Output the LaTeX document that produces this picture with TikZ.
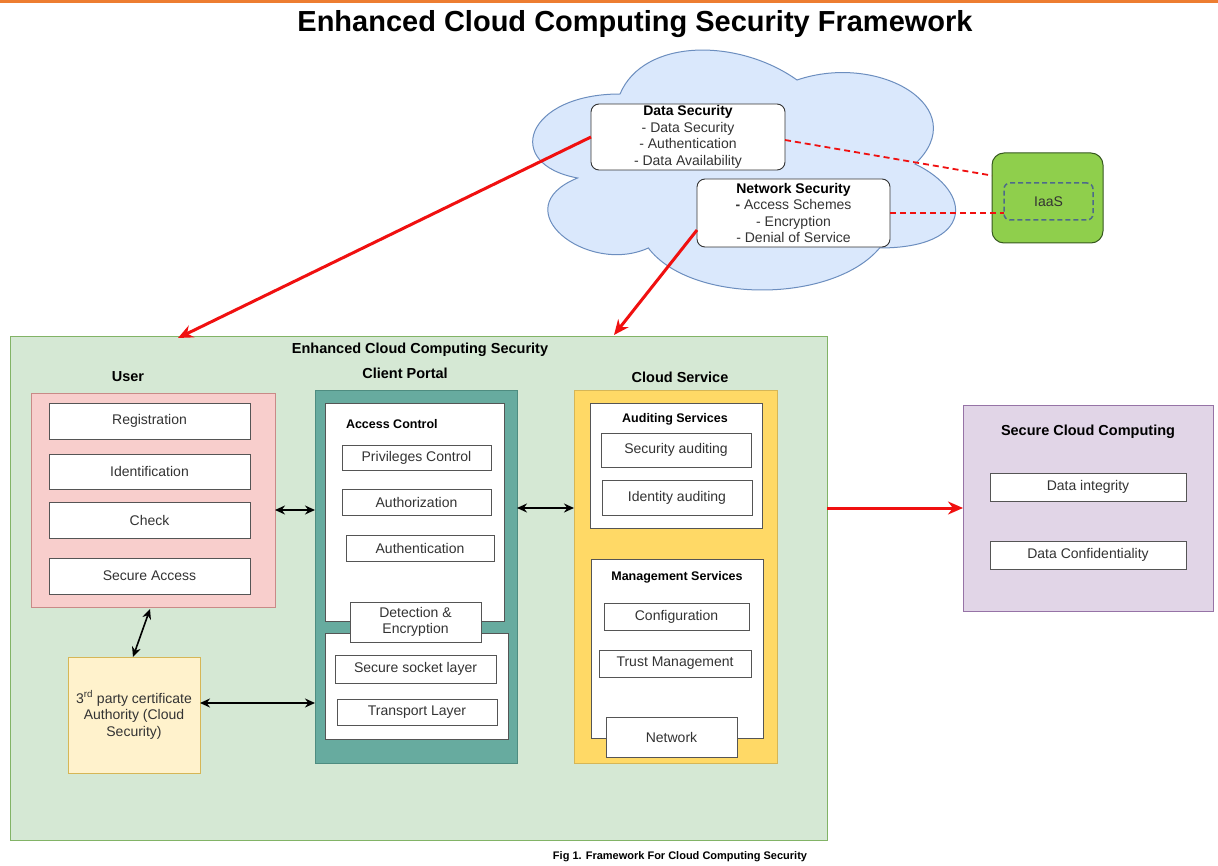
\documentclass[tikz,border=0pt]{standalone}
\usepackage{fontspec}
\setmainfont{Liberation Sans}
\usetikzlibrary{arrows.meta,calc}
\definecolor{orangeline}{HTML}{ED7D31}
\definecolor{cloudfill}{HTML}{DAE8FC}
\definecolor{cloudline}{HTML}{6C8EBF}
\definecolor{iaasgreen}{HTML}{8FCF4C}
\definecolor{iaasline}{HTML}{36581F}
\definecolor{dashblue}{HTML}{4D6A8A}
\definecolor{greenfill}{HTML}{D5E8D4}
\definecolor{greenline}{HTML}{82B366}
\definecolor{pinkfill}{HTML}{F8CECC}
\definecolor{pinkline}{HTML}{C98A87}
\definecolor{tealfill}{HTML}{67AB9F}
\definecolor{tealline}{HTML}{4E8C80}
\definecolor{yellowfill}{HTML}{FFD966}
\definecolor{yellowline}{HTML}{D6B656}
\definecolor{lightyellow}{HTML}{FFF2CC}
\definecolor{purplefill}{HTML}{E1D5E7}
\definecolor{purpleline}{HTML}{9673A6}
\definecolor{arrred}{HTML}{F01010}
\definecolor{boxgray}{HTML}{555555}
\definecolor{textgray}{HTML}{333333}
\begin{document}
\begin{tikzpicture}[x=1pt,y=-1pt,
  every node/.style={inner sep=0pt, outer sep=0pt},
  txt/.style={font=\fontsize{14}{16.5}\selectfont, text=textgray},
  hd/.style={font=\bfseries\fontsize{14.5}{17}\selectfont, text=black},
  sh/.style={font=\bfseries\fontsize{12.5}{15}\selectfont, text=black},
  wbox/.style={draw=boxgray, fill=white, line width=0.8pt, txt, align=center},
  secbox/.style={draw=textgray, fill=white, rounded corners=8pt, line width=0.9pt, txt, align=center},
  redarr/.style={draw=arrred, line width=3pt, -{Stealth[length=15pt,width=13pt]}},
  dblarr/.style={draw=black, line width=1.6pt, {Stealth[length=10pt,width=9pt]}-{Stealth[length=10pt,width=9pt]}},
  reddash/.style={draw=arrred, line width=1.8pt, dash pattern=on 6pt off 4pt},
]
\useasboundingbox (0,0) rectangle (1218,866);
\fill[white] (0,0) rectangle (1218,866);
% top rule
\draw[orangeline, line width=3pt] (0,2) -- (1218,2);
% title
\node[font=\bfseries\fontsize{29}{34}\selectfont] (title) at (635,24) {Enhanced Cloud Computing Security Framework};

% cloud
\begin{scope}[shift={(502,24)}, xscale=472, yscale=280]
\draw[fill=cloudfill, draw=cloudline, line width=1pt]
  (0.25,0.25) .. controls (0.05,0.25) and (0,0.5) .. (0.16,0.55)
  .. controls (0,0.66) and (0.18,0.9) .. (0.31,0.8)
  .. controls (0.4,1) and (0.7,1) .. (0.8,0.8)
  .. controls (1,0.8) and (1,0.6) .. (0.875,0.5)
  .. controls (1,0.3) and (0.8,0.1) .. (0.625,0.2)
  .. controls (0.5,0.05) and (0.3,0.05) .. (0.25,0.25) -- cycle;
\end{scope}

\node[secbox, minimum width=194pt, minimum height=66pt] (ds) at (688,137)
  {\textcolor{black}{\bfseries Data Security}\\- Data Security\\- Authentication\\- Data Availability};
\node[secbox, minimum width=193pt, minimum height=68pt] (ns) at (793.5,213)
  {\textcolor{black}{\bfseries Network Security}\\{\bfseries -} Access Schemes\\- Encryption\\- Denial of Service};

% IaaS
\node[draw=iaasline, fill=iaasgreen, rounded corners=12pt, line width=1pt, minimum width=111pt, minimum height=90pt] (iaas) at (1047.5,198) {};
\node[draw=dashblue, dash pattern=on 5pt off 3pt, rounded corners=6pt, line width=1.5pt, minimum width=89pt, minimum height=37pt, txt] (iaasin) at (1048.5,201.5) {IaaS};

% main panel
\node[draw=greenline, fill=greenfill, line width=1pt, minimum width=817pt, minimum height=503pt] (main) at (418.5,588.5) {};
\node[hd] (mainlbl) at (420,350) {Enhanced Cloud Computing Security};

% User
\node[hd] (userlbl) at (128,377) {User};
\node[draw=pinkline, fill=pinkfill, line width=0.8pt, minimum width=244pt, minimum height=214pt] (user) at (153,500) {};
\node[wbox, minimum width=201pt, minimum height=36pt] (reg) at (149.5,421) {Registration};
\node[wbox, minimum width=201pt, minimum height=35pt] (ident) at (149.5,471.5) {Identification};
\node[wbox, minimum width=201pt, minimum height=36pt] (check) at (149.5,520) {Check};
\node[wbox, minimum width=201pt, minimum height=36pt] (sacc) at (149.5,576) {Secure Access};

% Client portal
\node[hd] (cplbl) at (405,373) {Client Portal};
\node[draw=tealline, fill=tealfill, line width=0.8pt, minimum width=202pt, minimum height=373pt] (cp) at (416,576.5) {};
\node[wbox, minimum width=179pt, minimum height=218pt] (ac) at (414.5,512) {};
\node[sh, anchor=west] (aclbl) at (346,424) {Access Control};
\node[wbox, minimum width=149pt, minimum height=25pt] (priv) at (416.5,457.5) {Privileges Control};
\node[wbox, minimum width=149pt, minimum height=26pt] (authz) at (416.5,502) {Authorization};
\node[wbox, minimum width=148pt, minimum height=26pt] (authn) at (420,548) {Authentication};
\node[wbox, minimum width=183pt, minimum height=106pt] (tl) at (416.5,686) {};
\node[wbox, minimum width=131pt, minimum height=40pt] (det) at (415.5,622) {Detection \&\\Encryption};
\node[wbox, minimum width=161pt, minimum height=28pt] (ssl) at (415.5,669) {Secure socket layer};
\node[wbox, minimum width=160pt, minimum height=26pt] (trans) at (417,712) {Transport Layer};

% Cloud service
\node[hd] (cslbl) at (680,377) {Cloud Service};
\node[draw=yellowline, fill=yellowfill, line width=0.8pt, minimum width=203pt, minimum height=373pt] (cs) at (675.5,576.5) {};
\node[wbox, minimum width=172pt, minimum height=125pt] (aud) at (676,465.5) {};
\node[sh] (audlbl) at (675,419) {Auditing Services};
\node[wbox, minimum width=150pt, minimum height=34pt] (secaud) at (676,450) {Security auditing};
\node[wbox, minimum width=150pt, minimum height=35pt] (idaud) at (677,497.5) {Identity auditing};
\node[wbox, minimum width=172pt, minimum height=179pt] (mgmt) at (677,648.5) {};
\node[sh] (mgmtlbl) at (677,577) {Management Services};
\node[wbox, minimum width=145pt, minimum height=27pt] (conf) at (676.5,616.5) {Configuration};
\node[wbox, minimum width=152pt, minimum height=27pt] (trust) at (675,663.5) {Trust Management};
\node[wbox, minimum width=131pt, minimum height=40pt] (net) at (671.5,737) {Network};

% 3rd party
\node[draw=yellowline, fill=lightyellow, line width=0.8pt, minimum width=132pt, minimum height=116pt, txt, align=center] (tp) at (134,715)
  {3\textsuperscript{rd} party certificate\\Authority (Cloud\\Security)};

% Secure cloud computing
\node[draw=purpleline, fill=purplefill, line width=0.8pt, minimum width=250pt, minimum height=206pt] (scc) at (1088,508) {};
\node[hd] (scclbl) at (1088,432) {Secure Cloud Computing};
\node[wbox, minimum width=196pt, minimum height=28pt] (integ) at (1088,487) {Data integrity};
\node[wbox, minimum width=196pt, minimum height=28pt] (conf2) at (1088,555) {Data Confidentiality};

% caption
\node[font=\bfseries\fontsize{11}{13}\selectfont] (cap) at (680,857) {Fig 1. Framework For Cloud Computing Security};

% connectors
\coordinate (uarr) at (178,338);
\coordinate (narr) at (614,335);
\draw[redarr] (ds.west) -- (uarr);
\draw[redarr] (ns.190) -- (narr);
\draw[reddash] ([yshift=-3pt]ds.east) -- (iaas.158);
\draw[reddash] (ns.east) -- (ns.east -| iaasin.west);
\draw[redarr] (main.east |- scc.center) -- (scc.west);

\draw[dblarr] ([yshift=-10pt]user.east) -- ([yshift=-10pt]user.east -| cp.west);
\draw[dblarr] ([yshift=4pt]ac.east -| cp.east) -- ([yshift=4pt]ac.east -| cs.west);
\draw[dblarr] ([xshift=-3pt,yshift=-2pt]user.south) -- ([xshift=-1pt]tp.north);
\draw[dblarr] ([yshift=12pt]tp.east) -- ([yshift=12pt]tp.east -| cp.west);
\end{tikzpicture}
\end{document}
